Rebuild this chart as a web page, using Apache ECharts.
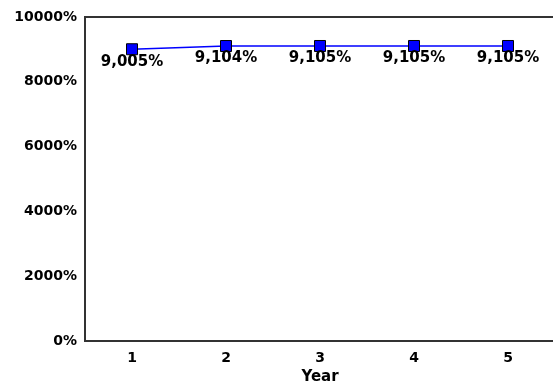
<!DOCTYPE html>
<html><head><meta charset="utf-8">
<script src="https://cdn.jsdelivr.net/npm/echarts@6/dist/echarts.min.js"></script>
<style>html,body{margin:0;padding:0;background:#fff}#c{width:553px;height:385px}</style>
</head><body><div id="c"></div>
<script>
const categories = ['1','2','3','4','5'];
const values = [9005, 9104, 9105, 9105, 9105];
const yTicks = [0, 2000, 4000, 6000, 8000, 10000];

const F = 'DejaVu Sans';
const chart = echarts.init(document.getElementById('c'), null, {renderer:'canvas'});
chart.setOption({
  animation:false,
  grid:{left:85, width:470, top:17, bottom:44, outerBoundsMode:'none', containLabel:false,
    show:true, borderColor:'#333', borderWidth:2, backgroundColor:'#fff'},
  xAxis:{type:'category', data:categories, boundaryGap:true,
    name:'Year', nameLocation:'middle', nameGap:27,
    nameTextStyle:{fontFamily:F, fontWeight:'bold', fontSize:15, color:'#000'},
    axisLine:{lineStyle:{color:'#333', width:2}}, axisTick:{show:false},
    axisLabel:{fontFamily:F, fontWeight:'bold', fontSize:14, color:'#000', margin:10}},
  yAxis:{type:'value', min:yTicks[0], max:yTicks[yTicks.length-1], interval:2000,
    splitLine:{show:false}, axisTick:{show:false},
    axisLine:{show:true, lineStyle:{color:'#333', width:2}},
    axisLabel:{fontFamily:F, fontWeight:'bold', fontSize:14, color:'#000', margin:8, formatter:v=>v+'%'}},
  series:[{type:'line', data:values, symbol:'rect', symbolSize:11,
    lineStyle:{color:'#0000ff', width:1.5},
    itemStyle:{color:'#0000ff', borderColor:'#000', borderWidth:1},
    label:{show:true, position:'bottom', distance:-1, color:'#000',
      fontFamily:F, fontWeight:'bold', fontSize:15,
      formatter:p=>p.value.toLocaleString('en-US')+'%'}}]
});
</script></body></html>
